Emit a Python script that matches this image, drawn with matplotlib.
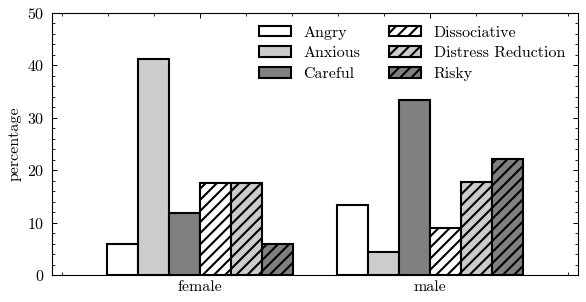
import matplotlib
matplotlib.use("Agg")
import matplotlib.pyplot as plt
import numpy as np
from matplotlib.ticker import MultipleLocator

plt.rcParams.update({
    "font.family": "serif",
    "font.serif": ["cmr10", "DejaVu Serif"],
    "mathtext.fontset": "cm",
    "axes.formatter.use_mathtext": True,
    "font.size": 11.5,
    "hatch.linewidth": 1.5,
    "axes.linewidth": 0.8,
})

groups = ["female", "male"]
series = ["Angry", "Anxious", "Careful", "Dissociative", "Distress Reduction", "Risky"]
values = {
    "Angry": [5.88, 13.33],
    "Anxious": [41.18, 4.44],
    "Careful": [11.76, 33.33],
    "Dissociative": [17.65, 8.89],
    "Distress Reduction": [17.65, 17.78],
    "Risky": [5.88, 22.22],
}
colors = ["white", "#cccccc", "#808080", "white", "#cccccc", "#808080"]
hatches = [None, None, None, "///", "///", "///"]

fig = plt.figure(figsize=(5.86, 3.02), dpi=100)
ax = fig.add_axes([52/586, 1 - 275/302, (578-52)/586, (275-13)/302])

x = np.arange(len(groups))
w = 0.135
for i, s in enumerate(series):
    ax.bar(x + (i - 2.5) * w, values[s], width=w, color=colors[i], edgecolor="black",
           linewidth=1.5, hatch=hatches[i], label=s, zorder=3)

ax.set_xlim(-0.643, 1.643)
ax.set_ylim(0, 50)
ax.set_xticks(x)
ax.set_xticklabels(groups)
ax.xaxis.set_minor_locator(MultipleLocator(0.2))
ax.yaxis.set_major_locator(MultipleLocator(10))
ax.yaxis.set_minor_locator(MultipleLocator(2))
ax.tick_params(which="both", direction="in", top=True, right=True)
ax.tick_params(which="major", length=3.6, width=0.7)
ax.tick_params(which="minor", length=2.2, width=0.6)
ax.tick_params(axis="y", which="major", pad=5.5)
ax.set_ylabel("percentage")
ax.legend(ncol=2, frameon=False, loc="upper right", handlelength=2.0, handleheight=0.65,
          handletextpad=0.8, columnspacing=1.8, labelspacing=0.42,
          borderaxespad=0.4, borderpad=0.4, fontsize=11.5)

fig.savefig("out.png", dpi=100)
